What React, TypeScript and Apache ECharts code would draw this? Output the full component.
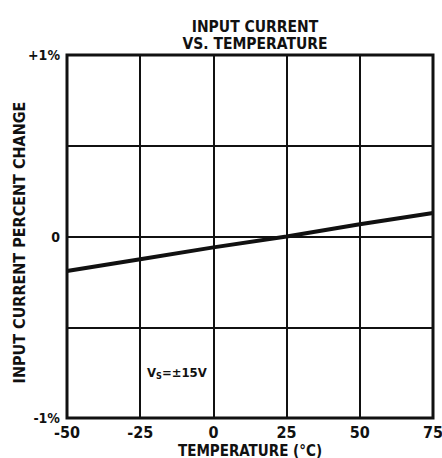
import React, { useEffect, useRef } from "react";
import * as echarts from "echarts";

const temperatures = [-50, -25, 0, 25, 50, 75];
const percentChange = [-0.19, -0.125, -0.06, 0, 0.068, 0.13];
const yTickLabels: Record<string, string> = { "1": "+1%", "0": "0", "-1": "-1%" };
const titleLines = ["INPUT CURRENT", "VS. TEMPERATURE"];
const xAxisName = "TEMPERATURE (°C)";
const yAxisName = "INPUT CURRENT PERCENT CHANGE";

const FONT = "'DejaVu Sans Condensed', 'DejaVu Sans', sans-serif";
const INK = "#111";

export default function App() {
  const ref = useRef<HTMLDivElement>(null);
  useEffect(() => {
    if (!ref.current) return;
    const chart = echarts.init(ref.current, null, { renderer: "svg" });
    chart.setOption({
      animation: false,
      backgroundColor: "#fff",
      title: {
        text: titleLines.join("\n"),
        left: 250,
        top: 13,
        textAlign: "center",
        textStyle: { fontFamily: FONT, fontSize: 15.5, fontWeight: "bold", color: INK, lineHeight: 17 },
      },
      grid: {
        left: 67,
        top: 55,
        width: 366,
        height: 363,
        show: true,
        borderColor: INK,
        borderWidth: 3,
        backgroundColor: "transparent",
        outerBoundsMode: "none",
        containLabel: false,
      },
      xAxis: {
        type: "value",
        min: -50,
        max: 75,
        interval: 25,
        name: xAxisName,
        nameLocation: "middle",
        nameGap: 25,
        nameMoveOverlap: false,
        nameTextStyle: { fontFamily: FONT, fontSize: 15, fontWeight: "bold", color: INK, lineHeight: 15 },
        axisLine: { show: false },
        axisTick: { show: false },
        axisLabel: { fontFamily: FONT, fontSize: 16, fontWeight: "bold", color: INK, margin: 6 },
        splitLine: { show: true, lineStyle: { color: INK, width: 2 } },
      },
      yAxis: {
        type: "value",
        min: -1,
        max: 1,
        interval: 0.5,
        name: yAxisName,
        nameLocation: "middle",
        nameGap: 40,
        nameMoveOverlap: false,
        nameRotate: 90,
        nameTextStyle: { fontFamily: FONT, fontSize: 16, fontWeight: "bold", color: INK, padding: [0, 0, 0, -12] },
        axisLine: { show: false },
        axisTick: { show: false },
        axisLabel: {
          fontFamily: FONT,
          fontSize: 14,
          fontWeight: "bold",
          color: INK,
          margin: 7,
          formatter: (v: number) => yTickLabels[String(v)] ?? "",
        },
        splitLine: { show: true, lineStyle: { color: INK, width: 2 } },
      },
      graphic: [
        {
          type: "text",
          left: 147,
          top: 366,
          style: {
            text: "{v|V}{s|S}{v|=±15V}",
            rich: {
              v: { fontFamily: FONT, fontSize: 13, fontWeight: "bold", fill: INK },
              s: { fontFamily: FONT, fontSize: 9, fontWeight: "bold", fill: INK, verticalAlign: "bottom", padding: [6, 0, 0, 0] },
            },
          },
        },
      ],
      series: [
        {
          type: "line",
          data: temperatures.map((t, i) => [t, percentChange[i]]),
          symbol: "none",
          lineStyle: { color: INK, width: 4 },
        },
      ],
    });
    return () => chart.dispose();
  }, []);
  return (
    <div
      ref={ref}
      style={{ position: "fixed", left: 0, top: 0, width: 442, height: 458, background: "#fff" }}
    />
  );
}
